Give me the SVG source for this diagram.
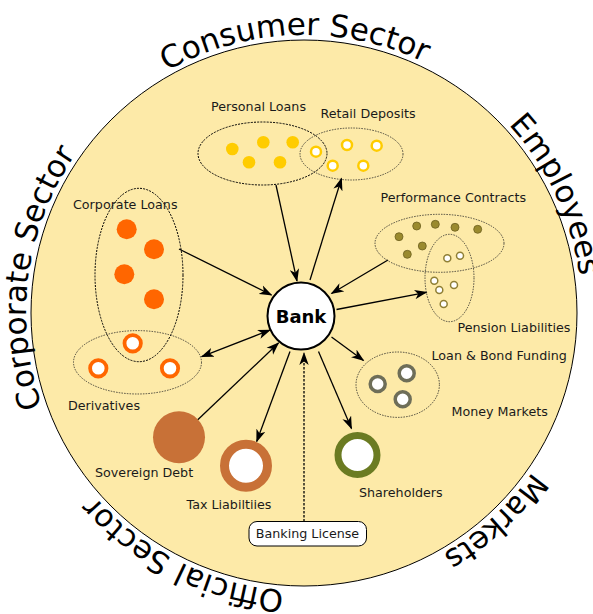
<svg xmlns="http://www.w3.org/2000/svg" xmlns:xlink="http://www.w3.org/1999/xlink" width="593" height="614" viewBox="0 0 593 614">
<style>
.lbl{font-family:"DejaVu Sans","Liberation Sans",sans-serif;font-size:12.7px;fill:#1a1a1a}
.sector{font-family:"DejaVu Sans","Liberation Sans",sans-serif;font-size:31px;fill:#000}
.grp{fill:none;stroke:#000;stroke-width:1;stroke-dasharray:2,1.2}
.grpl{fill:none;stroke:#222;stroke-width:0.8;stroke-dasharray:1.5,1.2}
.con{stroke:#000;stroke-width:1.3;fill:none}
</style>
<defs>
<marker id="arr" viewBox="0 0 13 10" refX="12" refY="5" markerWidth="13" markerHeight="10" markerUnits="userSpaceOnUse" orient="auto-start-reverse">
<path d="M0,0.3 L13,5 L0,9.7 L3.5,5 Z" fill="#000"/>
</marker>
<path id="ring" d="M582,313 A278,278 0 1 1 26,313 A278,278 0 1 1 582,313"/>
</defs>
<rect width="593" height="614" fill="#fff"/>
<circle id="world" cx="304" cy="313" r="273" fill="#fdeaa8" stroke="#000" stroke-width="1"/>
<g id="sectors">
<text class="sector"><textPath xlink:href="#ring" startOffset="1300" text-anchor="middle">Consumer Sector</textPath></text>
<text class="sector"><textPath xlink:href="#ring" startOffset="1624" text-anchor="middle">Employees</textPath></text>
<text class="sector"><textPath xlink:href="#ring" startOffset="230" text-anchor="middle">Markets</textPath></text>
<text class="sector"><textPath xlink:href="#ring" startOffset="565" text-anchor="middle">Official Sector</textPath></text>
<text class="sector"><textPath xlink:href="#ring" startOffset="910" text-anchor="middle">Corporate Sector</textPath></text>
</g>
<g id="connectors">
<line class="con" x1="276" y1="185" x2="297" y2="281" marker-end="url(#arr)"/>
<line class="con" x1="310" y1="280" x2="341.5" y2="178.5" marker-end="url(#arr)"/>
<line class="con" x1="179" y1="249" x2="271.5" y2="295" marker-end="url(#arr)"/>
<line class="con" x1="388" y1="260" x2="331.5" y2="293.5" marker-end="url(#arr)"/>
<line class="con" x1="336.5" y1="309.5" x2="426.5" y2="292.3" marker-end="url(#arr)"/>
<line class="con" x1="270" y1="330" x2="201.7" y2="356.7" marker-start="url(#arr)" marker-end="url(#arr)"/>
<line class="con" x1="197.5" y1="420" x2="278.5" y2="343" marker-end="url(#arr)"/>
<line class="con" x1="290" y1="351.5" x2="256.7" y2="441.5" marker-end="url(#arr)"/>
<line class="con" x1="331.5" y1="337" x2="363.5" y2="360.5" marker-end="url(#arr)"/>
<line class="con" x1="318.5" y1="351.5" x2="351.5" y2="428.5" marker-end="url(#arr)"/>
<line class="con" x1="304" y1="521.5" x2="304" y2="353" stroke-width="1" stroke-dasharray="2.5,1.5" marker-end="url(#arr)"/>
</g>
<g id="personal-loans">
<ellipse class="grp" cx="262.5" cy="153.5" rx="64.5" ry="31.5"/>
<g fill="#ffcc00">
<circle cx="232.3" cy="149" r="6.3"/><circle cx="263.3" cy="142.3" r="6.3"/><circle cx="292.7" cy="142.3" r="6.3"/><circle cx="249" cy="162.3" r="6.3"/><circle cx="280" cy="162.3" r="6.3"/>
</g>
<text class="lbl" x="211" y="111">Personal Loans</text>
</g>
<g id="retail-deposits">
<ellipse class="grpl" cx="351.5" cy="154" rx="51.5" ry="26"/>
<g fill="#fff" stroke="#ffcc00" stroke-width="2.5">
<circle cx="316" cy="151.7" r="5"/><circle cx="347" cy="145" r="5"/><circle cx="376.7" cy="145.7" r="5"/><circle cx="332.7" cy="165.7" r="5"/><circle cx="363.3" cy="165.7" r="5"/>
</g>
<text class="lbl" x="320.5" y="117.5">Retail Deposits</text>
</g>
<g id="performance-contracts">
<ellipse class="grpl" cx="439.5" cy="243.3" rx="64.5" ry="29"/>
<g fill="#9a8a2e" stroke="#6d6020" stroke-width="0.8">
<circle cx="399" cy="236.7" r="4"/><circle cx="416.7" cy="226" r="4"/><circle cx="435.3" cy="224.3" r="4"/><circle cx="455" cy="227.3" r="4"/><circle cx="477.7" cy="229.3" r="4"/><circle cx="422.3" cy="246" r="4"/><circle cx="407.3" cy="254.3" r="4"/>
</g>
<text class="lbl" x="380.5" y="202">Performance Contracts</text>
</g>
<g id="pension-liabilities">
<ellipse class="grpl" cx="449.5" cy="278" rx="24.5" ry="43.7"/>
<g fill="#fff" stroke="#8f7f35" stroke-width="1.5">
<circle cx="447.3" cy="258.3" r="3.5"/><circle cx="460" cy="255.7" r="3.5"/><circle cx="434.3" cy="280.7" r="3.5"/><circle cx="439.3" cy="290" r="3.5"/><circle cx="454" cy="285" r="3.5"/><circle cx="443.7" cy="304" r="3.5"/>
</g>
<text class="lbl" x="457.5" y="332">Pension Liabilities</text>
</g>
<g id="corporate-loans">
<ellipse class="grp" cx="139" cy="275" rx="44" ry="86.7"/>
<g fill="#ff6600">
<circle cx="126.7" cy="229.3" r="10"/><circle cx="154" cy="249.3" r="10"/><circle cx="124.3" cy="274.3" r="10"/><circle cx="154" cy="299.3" r="10"/>
</g>
<text class="lbl" x="73" y="209">Corporate Loans</text>
</g>
<g id="derivatives">
<ellipse class="grpl" cx="137.5" cy="362.3" rx="64" ry="31.7"/>
<g fill="#fff" stroke="#ff6600" stroke-width="3.8">
<circle cx="132.7" cy="343.3" r="8.2"/><circle cx="98.3" cy="368.3" r="8.2"/><circle cx="170" cy="368.3" r="8.2"/>
</g>
<text class="lbl" x="68" y="410">Derivatives</text>
</g>
<g id="loan-bond-funding">
<ellipse class="grpl" cx="397.7" cy="384.7" rx="41.7" ry="32.7"/>
<g fill="#fff" stroke="#6e6e58" stroke-width="3.5">
<circle cx="377.7" cy="384" r="7.5"/><circle cx="406.7" cy="373.3" r="7.5"/><circle cx="402.7" cy="399.3" r="7.5"/>
</g>
<text class="lbl" x="431.5" y="359.5">Loan &amp; Bond Funding</text>
<text class="lbl" x="451.5" y="416">Money Markets</text>
</g>
<g id="shareholders">
<circle cx="357.5" cy="455" r="19.5" fill="#fff" stroke="#6b7b22" stroke-width="7"/>
<text class="lbl" x="359" y="497">Shareholders</text>
</g>
<g id="sovereign-debt">
<circle cx="179" cy="437.3" r="26" fill="#c87137"/>
<text class="lbl" x="95" y="476.5">Sovereign Debt</text>
</g>
<g id="tax-liabilities">
<circle cx="246" cy="465.7" r="21.5" fill="#fff" stroke="#c87137" stroke-width="9"/>
<text class="lbl" x="186.5" y="508.5">Tax Liabiltiies</text>
</g>
<g id="banking-license">
<rect x="249" y="521.5" width="117.5" height="24.5" rx="8" fill="#fff" stroke="#000" stroke-width="1"/>
<text class="lbl" x="307.5" y="538" text-anchor="middle">Banking License</text>
</g>
<g id="bank">
<circle cx="301" cy="316" r="33.5" fill="#fff" stroke="#000" stroke-width="2"/>
<text x="301" y="323" text-anchor="middle" font-family="DejaVu Sans, Liberation Sans, sans-serif" font-weight="bold" font-size="18" fill="#000">Bank</text>
</g>
</svg>
